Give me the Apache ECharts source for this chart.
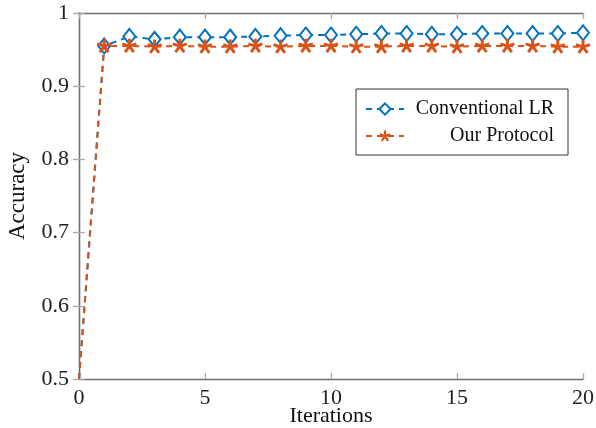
<!DOCTYPE html>
<html>
<head>
<meta charset="utf-8">
<script src="https://cdn.jsdelivr.net/npm/echarts@6/dist/echarts.min.js"></script>
<style>html,body{margin:0;padding:0;background:#fff;overflow:hidden;}#c{width:596px;height:428px;}</style>
</head>
<body>
<div id="c"></div>
<script>
const iterations = [0,1,2,3,4,5,6,7,8,9,10,11,12,13,14,15,16,17,18,19,20];
const conventionalLR = [0.5,0.955,0.968,0.964,0.967,0.967,0.967,0.968,0.969,0.970,0.970,0.971,0.972,0.972,0.971,0.971,0.972,0.972,0.972,0.972,0.973];
const ourProtocol = [0.5,0.955,0.955,0.954,0.955,0.954,0.954,0.955,0.954,0.955,0.955,0.954,0.954,0.955,0.955,0.954,0.955,0.955,0.955,0.954,0.954];
const xTicks = [0,5,10,15,20];
const yTicks = [0.5,0.6,0.7,0.8,0.9,1];

function asteriskPath(){
  const cx=50, cy=50, r=50, w=20;
  let d='';
  for(let i=0;i<5;i++){
    const a = -Math.PI/2 + i*2*Math.PI/5;
    const ux=Math.cos(a), uy=Math.sin(a);
    const px=-uy*w/2, py=ux*w/2;
    const tx=cx+ux*r, ty=cy+uy*r;
    d += 'M'+(cx+px).toFixed(2)+' '+(cy+py).toFixed(2)+
         'L'+(tx+px).toFixed(2)+' '+(ty+py).toFixed(2)+
         'L'+(tx-px).toFixed(2)+' '+(ty-py).toFixed(2)+
         'L'+(cx-px).toFixed(2)+' '+(cy-py).toFixed(2)+'Z';
  }
  return 'path://'+d;
}

const blue='#0072BD', orange='#D95319';
const font='Liberation Serif';
function pts(vals){
  return iterations.map((x,i)=>{
    const p={value:[x,vals[i]]};
    if(i===0){p.symbol='none';}
    return p;
  });
}
const chart = echarts.init(document.getElementById('c'), null, {renderer:'canvas'});
const axisLineStyle={color:'#6e6e6e',width:1.3};
const tickStyle={color:'#aaaaaa',width:1.3};
chart.setOption({
  animation:false,
  backgroundColor:'#fff',
  grid:{left:79,right:13,top:13,bottom:49,containLabel:false,outerBoundsMode:'none'},
  legend:{
    orient:'vertical', left:356, top:89,
    padding:[10,14,9,9], itemGap:7, itemWidth:38, itemHeight:14,
    borderColor:'#333', borderWidth:1, backgroundColor:'#fff',
    formatter:n=>'{t|'+n+'}',
    textStyle:{fontFamily:font,fontSize:20,color:'#111',
      rich:{t:{fontFamily:font,fontSize:20,color:'#111',width:145,align:'right'}}},
    data:['Conventional LR','Our Protocol']
  },
  xAxis:[{
    type:'value', min:0, max:20, interval:5,
    name:'Iterations', nameLocation:'middle', nameGap:26, nameMoveOverlap:false,
    nameTextStyle:{fontFamily:font,fontSize:22,color:'#111'},
    axisLine:{show:true,lineStyle:axisLineStyle},
    axisTick:{show:true,inside:true,length:6,lineStyle:tickStyle},
    axisLabel:{fontFamily:font,fontSize:22,color:'#222',margin:8,
      formatter:v=>xTicks.includes(v)?String(v):''},
    splitLine:{show:false}
  },{
    type:'value', min:0, max:20, interval:5, position:'top',
    axisLine:{show:true,lineStyle:axisLineStyle},
    axisTick:{show:true,inside:true,length:6,lineStyle:tickStyle},
    axisLabel:{show:false}, splitLine:{show:false}
  }],
  yAxis:[{
    type:'value', min:0.5, max:1, interval:0.1,
    name:'Accuracy', nameLocation:'middle', nameGap:50, nameRotate:90,
    nameTextStyle:{fontFamily:font,fontSize:23,color:'#111'},
    axisLine:{show:true,lineStyle:axisLineStyle},
    axisTick:{show:true,inside:true,length:6,lineStyle:tickStyle},
    axisLabel:{fontFamily:font,fontSize:22,color:'#222',margin:10,padding:[12,0,0,0],
      formatter:v=>{const t=yTicks.find(y=>Math.abs(y-v)<1e-9);return t===undefined?'':(t===1?'1':t.toFixed(1));}},
    splitLine:{show:false}
  },{
    type:'value', min:0.5, max:1, interval:0.1, position:'right',
    axisLine:{show:true,lineStyle:axisLineStyle},
    axisTick:{show:true,inside:true,length:6,lineStyle:tickStyle},
    axisLabel:{show:false}, splitLine:{show:false}
  }],
  series:[{
    name:'Conventional LR', type:'line', data:pts(conventionalLR),
    symbol:'diamond', symbolSize:[12,15],
    itemStyle:{color:'#fff',borderColor:blue,borderWidth:2},
    lineStyle:{color:blue,width:2,type:[6,5]},
    clip:false, z:2
  },{
    name:'Our Protocol', type:'line', data:pts(ourProtocol),
    symbol:asteriskPath(), symbolSize:15, symbolKeepAspect:true,
    itemStyle:{color:orange,borderColor:orange,borderWidth:0},
    lineStyle:{color:orange,width:2,type:[6,5]},
    clip:false, z:3
  }]
});
</script>
</body>
</html>
